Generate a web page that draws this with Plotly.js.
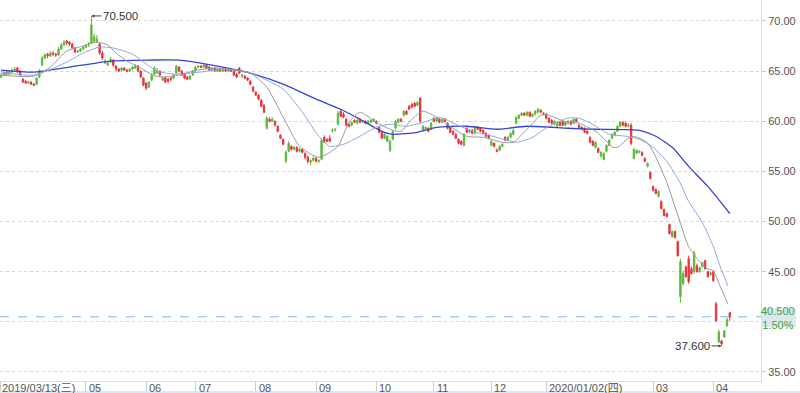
<!DOCTYPE html>
<html>
<head>
<meta charset="utf-8">
<script src="https://cdn.plot.ly/plotly-3.0.1.min.js"></script>
<style>html,body{margin:0;padding:0;background:#fff;}#chart{width:800px;height:393px;}</style>
</head>
<body>
<div id="chart"></div>
<script>
// Daily OHLC, 2019/03/13 .. 2020/04/xx (trading days)
const openP = [
64.4,64.6,64.9,64.7,64.9,65.1,65.3,65.0,64.2,64.0,
63.8,63.9,63.7,63.7,64.4,65.6,66.3,66.7,66.5,66.8,
66.7,66.6,67.2,67.6,68.0,67.9,67.7,67.3,66.9,67.0,
67.2,67.4,67.6,67.8,68.0,67.9,67.7,66.8,65.8,65.6,
65.9,66.1,65.5,65.2,65.1,65.3,65.1,65.0,65.2,65.3,
65.5,65.0,64.3,63.8,63.4,64.1,64.7,64.8,65.0,64.1,
64.3,64.2,64.3,64.3,64.8,65.4,65.0,64.7,64.4,64.2,
64.6,65.0,65.4,65.5,65.4,65.6,65.4,65.1,65.3,65.0,
65.2,65.0,65.2,65.0,65.1,65.0,64.7,65.3,64.5,64.5,
64.3,64.0,63.4,62.9,62.6,62.1,61.6,59.3,60.2,60.0,
60.0,59.5,58.6,58.2,56.0,57.0,57.5,57.2,57.4,57.0,
57.2,56.8,56.4,55.9,56.1,56.3,56.0,56.2,58.4,58.2,
58.3,59.0,59.1,59.7,61.0,60.7,60.2,59.7,59.6,60.1,
59.8,60.2,59.9,60.0,59.8,59.9,60.0,60.0,59.4,58.9,
58.3,58.0,57.1,58.2,59.3,59.9,60.2,60.6,61.0,61.5,
61.7,61.8,61.6,62.3,59.1,59.2,59.3,59.2,60.3,60.0,
60.2,59.9,60.2,59.8,59.4,59.0,58.7,58.2,58.0,57.6,
59.3,58.9,59.1,58.8,59.4,59.3,59.1,58.8,58.6,57.6,
57.8,57.1,57.1,57.5,58.4,58.1,58.4,58.7,59.8,60.3,
60.6,60.8,60.6,60.9,60.5,60.7,60.9,61.1,60.8,60.7,
60.3,60.1,59.7,59.5,59.9,60.0,59.6,59.8,60.0,59.8,
60.2,59.6,59.4,59.3,59.0,58.4,58.0,57.4,57.3,56.5,
56.2,57.0,57.6,58.3,58.6,59.0,59.5,59.9,59.8,59.5,
59.6,56.3,56.8,56.9,56.9,56.3,55.5,54.9,53.5,53.2,
52.5,52.0,51.2,50.8,49.7,48.5,49.0,48.0,42.5,43.8,
45.5,46.3,45.3,45.0,45.6,45.0,45.5,46.1,45.0,44.7,
45.0,41.8,38.0,38.1,38.5,39.6,40.9
];
const highP = [
64.8,65.0,65.0,65.1,65.3,65.4,65.4,65.1,64.3,64.1,
64.0,64.0,63.8,64.4,65.2,66.5,66.8,66.8,67.0,67.0,
66.8,67.4,67.8,68.1,68.1,68.0,67.8,67.4,67.1,67.3,
67.5,67.7,67.9,70.5,68.7,68.6,67.8,67.0,66.2,66.0,
66.4,66.2,65.6,65.3,65.4,65.4,65.2,65.3,65.5,65.7,
65.6,65.1,64.4,63.9,64.0,64.8,65.5,65.3,65.1,64.5,
64.5,64.3,64.4,64.7,65.6,65.5,65.1,64.8,64.5,64.6,
65.1,65.5,65.6,65.6,65.7,65.7,65.5,65.4,65.4,65.3,
65.3,65.3,65.3,65.2,65.2,65.1,64.8,65.4,64.7,64.6,
64.4,64.1,63.5,63.0,62.7,62.2,61.7,60.5,60.4,60.4,
60.1,59.6,58.7,58.3,57.1,58.0,57.6,57.5,57.5,57.3,
57.3,56.9,56.6,56.2,56.5,56.4,56.2,58.3,58.6,58.3,
58.6,59.3,59.3,61.0,61.1,60.9,60.3,59.8,60.0,60.2,
60.2,60.3,60.1,60.1,60.1,60.2,60.3,60.1,59.5,59.0,
58.8,58.6,58.2,59.1,60.1,60.3,60.3,61.1,61.1,61.6,
61.8,61.9,62.0,62.4,59.6,59.5,59.4,59.9,60.4,60.4,
60.3,60.3,60.3,59.9,59.5,59.1,58.8,58.3,58.1,58.8,
59.4,59.2,59.2,59.5,59.5,59.4,59.2,58.9,58.7,58.1,
57.9,57.3,57.6,57.8,58.5,58.5,58.9,59.2,60.5,60.7,
60.9,60.9,61.0,61.0,60.8,61.1,61.3,61.2,60.9,60.8,
60.4,60.2,60.1,60.0,60.0,60.1,60.0,60.1,60.1,60.3,
60.3,59.7,59.5,59.4,59.1,58.5,58.1,58.0,57.4,57.0,
56.9,57.7,58.2,58.8,59.0,59.6,60.0,60.0,59.9,59.8,
59.8,57.3,57.2,57.1,57.0,56.4,55.9,55.0,53.6,53.3,
53.1,52.1,51.3,50.9,49.8,49.1,49.1,48.1,46.3,45.1,
45.6,46.6,45.5,47.1,45.8,45.5,46.0,46.2,45.1,45.0,
45.1,42.0,39.2,38.2,39.2,40.4,41.0
];
const lowP = [
64.3,64.5,64.6,64.6,64.8,65.0,64.8,64.5,63.8,63.7,
63.7,63.6,63.5,63.6,64.3,65.5,66.2,66.3,66.4,66.5,
66.4,66.5,67.1,67.5,67.6,67.5,67.2,66.8,66.8,66.9,
67.1,67.3,67.4,67.7,67.8,67.8,66.6,66.1,65.7,65.5,
65.8,65.4,65.0,64.9,65.0,65.0,64.9,64.9,65.1,65.2,
64.9,64.3,63.5,63.1,63.3,64.0,64.6,64.7,64.4,64.0,
63.8,63.8,64.0,64.2,64.7,64.9,64.5,64.2,64.1,64.1,
64.5,64.9,65.3,65.3,65.3,65.2,65.0,65.0,64.9,64.9,
64.9,64.9,64.9,64.9,64.9,64.5,64.3,64.7,64.3,64.2,
64.0,63.6,62.9,62.5,62.1,61.4,60.8,59.2,59.9,59.9,
59.5,58.9,58.2,57.6,55.8,56.9,57.1,57.1,56.9,56.9,
56.8,56.2,55.8,55.6,56.0,55.9,55.8,56.1,57.8,57.9,
57.9,58.9,59.0,59.6,60.4,60.3,59.5,59.4,59.5,59.8,
59.7,59.8,59.8,59.7,59.7,59.8,59.9,59.7,58.8,58.2,
58.2,57.9,56.9,58.1,59.2,59.8,59.9,60.5,60.6,61.1,
61.3,61.4,61.5,59.8,59.0,59.1,58.9,59.1,59.9,59.9,
59.8,59.8,59.9,59.2,58.8,58.6,58.2,57.7,57.6,57.5,
58.8,58.8,58.7,58.7,59.1,58.9,58.7,58.4,58.2,57.5,
57.4,56.9,57.0,57.4,58.0,58.0,58.3,58.6,59.7,60.2,
60.5,60.5,60.5,60.4,60.4,60.6,60.8,60.8,60.6,60.2,
59.8,59.7,59.6,59.4,59.5,59.5,59.5,59.7,59.6,59.7,
59.9,59.2,59.1,58.8,58.7,57.8,57.5,57.3,56.8,56.4,
56.1,56.9,57.5,58.2,58.5,58.9,59.4,59.5,59.4,59.4,
57.6,56.2,56.7,56.8,56.5,55.9,55.4,54.2,53.0,52.7,
52.4,51.2,50.5,50.4,48.7,48.4,48.3,46.5,41.9,43.6,
44.4,43.8,44.7,44.8,44.9,44.9,45.4,45.2,44.4,44.6,
44.0,40.0,37.9,37.6,38.4,39.5,40.1
];
const closeP = [
64.6,64.8,64.7,64.9,65.1,65.2,64.9,64.6,63.9,63.8,
63.9,63.7,63.6,64.3,65.0,66.3,66.6,66.5,66.8,66.7,
66.6,67.2,67.6,67.9,67.8,67.7,67.3,66.9,67.0,67.2,
67.4,67.6,67.7,69.6,68.4,68.2,66.8,66.3,66.0,65.8,
66.2,65.6,65.2,65.0,65.3,65.1,65.0,65.2,65.4,65.5,
65.0,64.4,63.6,63.3,63.9,64.6,65.3,65.0,64.6,64.3,
63.9,64.0,64.2,64.6,65.5,65.0,64.6,64.3,64.2,64.5,
65.0,65.4,65.5,65.4,65.6,65.3,65.1,65.3,65.0,65.2,
65.0,65.2,65.0,65.1,65.0,64.6,64.4,64.8,64.6,64.3,
64.1,63.7,63.0,62.6,62.2,61.5,60.9,60.3,60.0,60.2,
59.6,59.0,58.3,57.7,56.9,57.8,57.2,57.4,57.0,57.2,
56.9,56.4,56.0,56.1,56.3,56.0,56.1,58.1,57.9,58.0,
58.0,59.1,59.2,60.8,60.5,60.4,59.6,59.5,59.9,59.9,
60.1,59.9,60.0,59.8,60.0,60.1,60.2,59.8,58.9,58.3,
58.7,58.5,58.0,59.0,60.0,60.2,60.0,61.0,60.7,61.2,
61.4,61.5,61.9,60.0,59.5,59.4,59.0,59.8,60.0,60.3,
59.9,60.2,60.0,59.3,58.9,58.7,58.3,57.8,57.7,58.7,
58.9,59.1,58.8,59.4,59.2,59.0,58.8,58.5,58.3,58.0,
57.5,57.0,57.5,57.7,58.1,58.4,58.8,59.1,60.4,60.6,
60.8,60.6,60.9,60.5,60.7,61.0,61.2,60.9,60.7,60.3,
59.9,59.8,60.0,59.9,59.6,59.6,59.9,60.0,59.7,60.2,
60.0,59.3,59.2,58.9,58.8,57.9,57.6,57.9,56.9,56.9,
56.8,57.6,58.1,58.7,58.9,59.5,59.9,59.6,59.5,59.6,
57.8,57.2,57.1,57.0,56.6,56.0,55.8,54.3,53.1,52.8,
53.0,51.3,50.6,50.5,48.8,49.0,48.4,46.6,46.0,44.8,
44.5,44.0,44.8,46.9,45.0,45.4,45.9,45.3,44.5,44.9,
44.1,40.1,39.0,37.8,39.1,40.2,40.5
];

// Moving averages read at sample trading-day positions
const maShortDay = [0,12,18,24,30,35,39,42,46,51,55.5,59,65,71.5,79,87,91,97,103,109,116,123,127,131,137,142,146,150,154,159,164,170,176,183,187,192,197,200,206.6,211,217.5,223.4,225,228.5,230.7,235.8,239.4,243,246.7,251,255,257.7,259.9,262.4,265.3];
const maShortVal = [64.6,64.5,65.4,67.0,67.5,67.9,67.6,66.8,66.0,65.3,64.6,64.4,64.6,65.1,65.3,65.0,64.8,63.4,60.4,57.5,56.4,57.5,59.9,60.9,59.9,59.2,59.0,60.2,61.0,60.4,59.5,58.5,58.4,57.9,57.9,59.2,60.6,60.6,59.9,59.8,58.9,57.4,57.4,58.2,58.5,57.9,56.2,53.9,50.9,47.5,46.0,45.3,45.1,43.6,41.8];

const maMidDay = [0,12,24,30,36,41,48,53,57,63,72.6,82.5,91,103,110,116,120,125,131,137,142,148,155.5,160,166,172,179.6,188.3,194,200,206.6,211,216,222,228.5,233,238,243,247.8,251,256,260,262.4,265.3];
const maMidVal = [64.9,64.6,65.9,66.8,67.4,67.3,66.7,65.7,65.0,64.7,64.9,65.2,64.8,63.2,60.9,58.5,57.5,57.7,58.5,59.4,59.7,59.5,60.0,60.4,59.7,59.0,58.5,57.9,58.4,59.5,60.3,60.3,59.7,58.7,58.5,58.2,57.4,56.0,53.9,52.0,49.9,47.5,45.6,43.6];

const maLongDay = [0,12,25,40,54,65,77,91,103,115,124,131,139,143,152,159,170,181,192,207,217,233,239,245,251,258,266];
const maLongVal = [65.1,64.9,65.4,66.0,66.1,66.1,65.6,64.8,63.7,62.2,61.2,60.2,59.0,58.7,58.9,59.4,59.5,59.2,59.5,59.3,59.2,59.1,58.5,57.4,55.5,53.5,50.8];

const tickDay = [0,31,53,71,93,115,137,158,179,199,238,260];
const tickLabel = ["2019/03/13(三)","05","06","07","08","09","10","11","12","2020/01/02(四)","03","04"];
const yTicks = [35,40,45,50,55,60,65,70];
const yTickText = ["35.00","","45.00","50.00","55.00","60.00","65.00","70.00"];

const highest = {day: 33, value: 70.5, label: "70.500"};
const lowest = {day: 263, value: 37.6, label: "37.600"};
const lastPrice = 40.5, lastLabel = "40.500", lastChange = "1.50%";

const dayIdx = closeP.map((_, i) => i);
const FONT = "Liberation Sans, Arial, Noto Sans CJK TC, sans-serif";
const UP = "#5fb83a", DOWN = "#e8343b";

const traces = [
  {type: "candlestick", x: dayIdx, open: openP, high: highP, low: lowP, close: closeP,
   increasing: {line: {color: UP, width: 1}, fillcolor: UP},
   decreasing: {line: {color: DOWN, width: 1}, fillcolor: DOWN},
   whiskerwidth: 0, hoverinfo: "skip", showlegend: false},
  {type: "scatter", mode: "lines", x: maLongDay, y: maLongVal,
   line: {color: "#3343d6", width: 1.3, shape: "spline", smoothing: 0.6}, hoverinfo: "skip", showlegend: false},
  {type: "scatter", mode: "lines", x: maMidDay, y: maMidVal,
   line: {color: "#8aa9e6", width: 1, shape: "spline", smoothing: 0.6}, hoverinfo: "skip", showlegend: false},
  {type: "scatter", mode: "lines", x: maShortDay, y: maShortVal,
   line: {color: "#9b9b9b", width: 1, shape: "spline", smoothing: 0.6}, hoverinfo: "skip", showlegend: false}
];

const plotH = 381;
const xLabelAnns = tickDay.map((d, k) => ({
  x: d, y: 0, xref: "x", yref: "paper", text: tickLabel[k], showarrow: false,
  xanchor: "left", yanchor: "top", xshift: k === 0 ? -1 : 1, yshift: 1,
  font: {family: FONT, size: 11, color: "#555"}
}));

const layout = {
  width: 800, height: 393,
  margin: {l: 0, r: 39, t: 0, b: 12, pad: 0},
  paper_bgcolor: "#ffffff", plot_bgcolor: "#ffffff",
  font: {family: FONT, size: 11, color: "#555"},
  showlegend: false,
  xaxis: {
    range: [-0.36, 277.4], rangeslider: {visible: false},
    tickmode: "array", tickvals: tickDay, ticktext: tickLabel, showticklabels: false,
    ticks: "outside", ticklen: 9, tickcolor: "#cccccc", tickwidth: 1,
    showgrid: false, zeroline: false,
    showline: true, linecolor: "#dddddd", linewidth: 1
  },
  yaxis: {
    side: "right", range: [34.10, 72.09],
    tickmode: "array", tickvals: yTicks, ticktext: yTickText,
    ticks: "outside", ticklen: 4, tickcolor: "#cccccc",
    tickfont: {family: FONT, size: 11, color: "#555"},
    showgrid: true, gridcolor: "#d6d6d6", griddash: "dot", gridwidth: 1,
    zeroline: false, showline: true, linecolor: "#dddddd", linewidth: 1
  },
  shapes: [
    {type: "line", xref: "paper", x0: 0, x1: 1, yref: "y", y0: lastPrice, y1: lastPrice,
     line: {color: "#86b4ea", width: 1, dash: "dash"}},
    {type: "rect", xref: "paper", x0: 1.0005, x1: 1.046, yref: "paper",
     y0: 1 - 327/plotH, y1: 1 - 308/plotH, fillcolor: "#dde7f0", line: {width: 0}, layer: "above"},
    {type: "rect", xref: "paper", x0: 0, x1: 1.052, yref: "paper",
     y0: -(393-381)/plotH, y1: -(391-381)/plotH, fillcolor: "#dfe8f2", line: {width: 0}}
  ],
  annotations: [
    {x: highest.day, y: highest.value, xref: "x", yref: "y", text: highest.label,
     showarrow: true, ax: 10, ay: 0, xanchor: "left", yanchor: "middle",
     arrowhead: 2, arrowsize: 0.6, arrowwidth: 1, arrowcolor: "#444",
     font: {family: FONT, size: 11.5, color: "#333"}},
    {x: lowest.day, y: lowest.value, xref: "x", yref: "y", text: lowest.label,
     showarrow: true, ax: -10, ay: 0, xanchor: "right", yanchor: "middle",
     arrowhead: 2, arrowsize: 0.6, arrowwidth: 1, arrowcolor: "#444",
     font: {family: FONT, size: 11.5, color: "#333"}},
    {x: 1.0225, y: 1 - 317.5/plotH, xref: "paper", yref: "paper",
     text: lastLabel + "<br>" + lastChange, showarrow: false, xanchor: "center", yanchor: "middle",
     align: "center", font: {family: FONT, size: 11, color: "#3aa532"}}
  ].concat(xLabelAnns)
};

Plotly.newPlot("chart", traces, layout, {displayModeBar: false, staticPlot: true});
</script>
</body>
</html>
